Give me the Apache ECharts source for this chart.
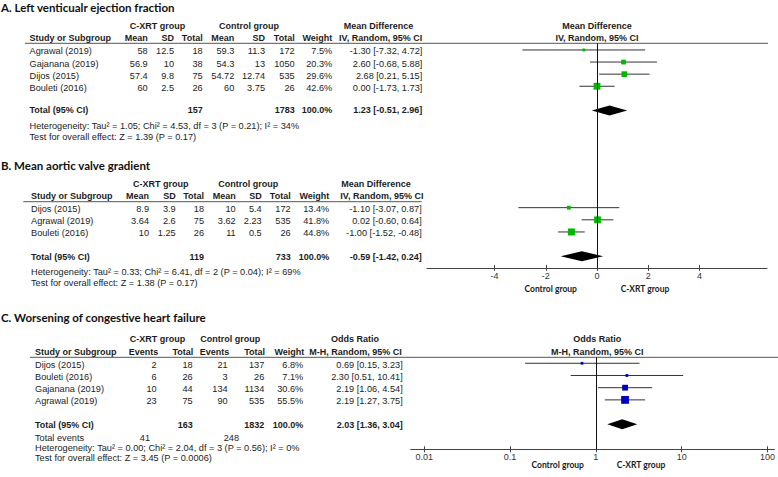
<!DOCTYPE html>
<html>
<head>
<meta charset="utf-8">
<script src="https://cdn.jsdelivr.net/npm/echarts@6/dist/echarts.min.js"></script>
<style>
html,body{margin:0;padding:0;background:#fff;}
#chart{width:778px;height:477px;}
</style>
</head>
<body>
<div id="chart"></div>
<script>
// ---------------- DATA ----------------
// Panel A: Left ventricular ejection fraction (Mean Difference, IV, Random)
const aTitle = 'A. Left venticualr ejection fraction';
const aStudies = ['Agrawal (2019)', 'Gajanana (2019)', 'Dijos (2015)', 'Bouleti (2016)'];
const aXrtMean = ['58', '56.9', '57.4', '60'];
const aXrtSD = ['12.5', '10', '9.8', '2.5'];
const aXrtN = [18, 38, 75, 26];
const aCtlMean = ['59.3', '54.3', '54.72', '60'];
const aCtlSD = ['11.3', '13', '12.74', '3.75'];
const aCtlN = [172, 1050, 535, 26];
const aWeight = [7.5, 20.3, 29.6, 42.6];
const aEst = [-1.30, 2.60, 2.68, 0.00];
const aLow = [-7.32, -0.68, 0.21, -1.73];
const aHigh = [4.72, 5.88, 5.15, 1.73];
const aTotalN = [157, 1783];
const aTotalCI = [1.23, -0.51, 2.96];
const aHet = 'Heterogeneity: Tau\u00b2 = 1.05; Chi\u00b2 = 4.53, df = 3 (P = 0.21); I\u00b2 = 34%';
const aTest = 'Test for overall effect: Z = 1.39 (P = 0.17)';

// Panel B: Mean aortic valve gradient
const bTitle = 'B. Mean aortic valve gradient';
const bStudies = ['Dijos (2015)', 'Agrawal (2019)', 'Bouleti (2016)'];
const bXrtMean = ['8.9', '3.64', '10'];
const bXrtSD = ['3.9', '2.6', '1.25'];
const bXrtN = [18, 75, 26];
const bCtlMean = ['10', '3.62', '11'];
const bCtlSD = ['5.4', '2.23', '0.5'];
const bCtlN = [172, 535, 26];
const bWeight = [13.4, 41.8, 44.8];
const bEst = [-1.10, 0.02, -1.00];
const bLow = [-3.07, -0.60, -1.52];
const bHigh = [0.87, 0.64, -0.48];
const bTotalN = [119, 733];
const bTotalCI = [-0.59, -1.42, 0.24];
const bHet = 'Heterogeneity: Tau\u00b2 = 0.33; Chi\u00b2 = 6.41, df = 2 (P = 0.04); I\u00b2 = 69%';
const bTest = 'Test for overall effect: Z = 1.38 (P = 0.17)';
const bTickValues = [-4, -2, 0, 2, 4];

// Panel C: Worsening of congestive heart failure (Odds Ratio, M-H, Random)
const cTitle = 'C. Worsening of congestive heart failure';
const cStudies = ['Dijos (2015)', 'Bouleti (2016)', 'Gajanana (2019)', 'Agrawal (2019)'];
const cXrtEvents = [2, 6, 10, 23];
const cXrtN = [18, 26, 44, 75];
const cCtlEvents = [21, 3, 134, 90];
const cCtlN = [137, 26, 1134, 535];
const cWeight = [6.8, 7.1, 30.6, 55.5];
const cEst = [0.69, 2.30, 2.19, 2.19];
const cLow = [0.15, 0.51, 1.06, 1.27];
const cHigh = [3.23, 10.41, 4.54, 3.75];
const cTotalN = [163, 1832];
const cTotalEvents = [41, 248];
const cTotalCI = [2.03, 1.36, 3.04];
const cHet = 'Heterogeneity: Tau\u00b2 = 0.00; Chi\u00b2 = 2.04, df = 3 (P = 0.56); I\u00b2 = 0%';
const cTest = 'Test for overall effect: Z = 3.45 (P = 0.0006)';
const cTickValues = [0.01, 0.1, 1, 10, 100];
const cTickLabels = ['0.01', '0.1', '1', '10', '100'];

const favLeft = 'Control group';
const favRight = 'C-XRT group';

// ---------------- LAYOUT / STYLE ----------------
const TXT = '#1c1c1c';
const FONT = '"Liberation Sans", Arial, sans-serif';
const fBody = '9.2px ' + FONT;
const fBold = 'bold 9px ' + FONT;
const fTitle = 'bold 11.5px Lato, "Open Sans", sans-serif';
const fFav = 'bold 8.5px Lato, "Open Sans", sans-serif';
const GREEN = '#00b800';
const BLUE = '#0000c0';

const plotLeft = 427, plotRight = 767;
const pA = {top: 43.3, min: -0.55, max: 9.5, step: 12.1};
const pB = {top: 164.9, min: -3.52, max: 4.96, step: 12.15};
const pC = {top: 357.3, min: -0.49, max: 7.05, step: 12.2};
function yPix(p, i) { return p.top + (i - p.min) * p.step; }

const fmt2 = v => v.toFixed(2);
const ciText = (e, l, h) => fmt2(e) + ' [' + fmt2(l) + ', ' + fmt2(h) + ']';
const pct = v => v.toFixed(1) + '%';

const graphics = [];
function T(x, y, s, font, align, color) {
  graphics.push({
    type: 'text', x: x, y: y, silent: true,
    style: {text: String(s), font: font, fill: color || TXT,
      textAlign: align || 'left', align: align || 'left',
      textVerticalAlign: 'middle', verticalAlign: 'middle'}
  });
}
function HL(x1, x2, y, color) {
  graphics.push({type: 'line', silent: true,
    shape: {x1: x1, y1: y, x2: x2, y2: y},
    style: {stroke: color || '#444', lineWidth: 1}});
}

// ---- Panel A table ----
T(1, 7, aTitle, fTitle, 'left', '#111');
T(157.5, 25.7, 'C-XRT group', fBold, 'center');
T(249, 25.7, 'Control group', fBold, 'center');
T(378.5, 25.7, 'Mean Difference', fBold, 'center');
T(597, 25.7, 'Mean Difference', fBold, 'center');
{
  const y = 37.7;
  T(29.5, y, 'Study or Subgroup', fBold, 'left');
  [['Mean', 147.7], ['SD', 174], ['Total', 202.7], ['Mean', 234.3], ['SD', 265], ['Total', 294.7], ['Weight', 332.3], ['IV, Random, 95% CI', 422.3]]
    .forEach(h => T(h[1], y, h[0], fBold, 'right'));
  T(597, y, 'IV, Random, 95% CI', fBold, 'center');
}
HL(25, 768, 43.3, '#555');
aStudies.forEach((s, i) => {
  const y = yPix(pA, i) + 1.5;
  T(29.5, y, s, fBody, 'left');
  T(147.7, y, aXrtMean[i], fBody, 'right');
  T(174, y, aXrtSD[i], fBody, 'right');
  T(202.7, y, aXrtN[i], fBody, 'right');
  T(234.3, y, aCtlMean[i], fBody, 'right');
  T(265, y, aCtlSD[i], fBody, 'right');
  T(294.7, y, aCtlN[i], fBody, 'right');
  T(332.3, y, pct(aWeight[i]), fBody, 'right');
  T(422.3, y, ciText(aEst[i], aLow[i], aHigh[i]), fBody, 'right');
});
{
  const y = yPix(pA, 5);
  T(29.5, y, 'Total (95% CI)', fBold, 'left');
  T(202.7, y, aTotalN[0], fBold, 'right');
  T(294.7, y, aTotalN[1], fBold, 'right');
  T(332.3, y, '100.0%', fBold, 'right');
  T(422.3, y, ciText(aTotalCI[0], aTotalCI[1], aTotalCI[2]), fBold, 'right');
  T(29.5, 125.7, aHet, fBody, 'left');
  T(29.5, 136.7, aTest, fBody, 'left');
}

// ---- Panel B table ----
T(1, 165.5, bTitle, fTitle, 'left', '#111');
T(160.8, 184, 'C-XRT group', fBold, 'center');
T(248.3, 184, 'Control group', fBold, 'center');
T(376, 184, 'Mean Difference', fBold, 'center');
{
  const y = 195.7;
  T(31, y, 'Study or Subgroup', fBold, 'left');
  [['Mean', 149], ['SD', 175.7], ['Total', 204], ['Mean', 235.7], ['SD', 261.7], ['Total', 290.7], ['Weight', 329.3], ['IV, Random, 95% CI', 423.5]]
    .forEach(h => T(h[1], y, h[0], fBold, 'right'));
}
HL(23.3, 421.7, 201.7, '#555');
bStudies.forEach((s, i) => {
  const y = yPix(pB, i) + 1.5;
  T(31, y, s, fBody, 'left');
  T(149, y, bXrtMean[i], fBody, 'right');
  T(175.7, y, bXrtSD[i], fBody, 'right');
  T(204, y, bXrtN[i], fBody, 'right');
  T(235.7, y, bCtlMean[i], fBody, 'right');
  T(261.7, y, bCtlSD[i], fBody, 'right');
  T(290.7, y, bCtlN[i], fBody, 'right');
  T(329.3, y, pct(bWeight[i]), fBody, 'right');
  T(421.7, y, ciText(bEst[i], bLow[i], bHigh[i]), fBody, 'right');
});
{
  const y = yPix(pB, 4) + 1;
  T(31, y, 'Total (95% CI)', fBold, 'left');
  T(204, y, bTotalN[0], fBold, 'right');
  T(290.7, y, bTotalN[1], fBold, 'right');
  T(329.3, y, '100.0%', fBold, 'right');
  T(421.7, y, ciText(bTotalCI[0], bTotalCI[1], bTotalCI[2]), fBold, 'right');
  T(31, 272.3, bHet, fBody, 'left');
  T(31, 283.3, bTest, fBody, 'left');
}
T(550.7, 289.3, favLeft, fFav, 'center');
T(645, 289.3, favRight, fFav, 'center');

// ---- Panel C table ----
T(1, 317.3, cTitle, fTitle, 'left', '#111');
T(157.5, 339.3, 'C-XRT group', fBold, 'center');
T(230.2, 339.3, 'Control group', fBold, 'center');
T(355, 339.3, 'Odds Ratio', fBold, 'center');
T(597.3, 339.3, 'Odds Ratio', fBold, 'center');
{
  const y = 351.7;
  T(35, y, 'Study or Subgroup', fBold, 'left');
  [['Events', 158.3], ['Total', 193.3], ['Events', 229.3], ['Total', 265], ['Weight', 304.3]]
    .forEach(h => T(h[1], y, h[0], fBold, 'right'));
  T(355.5, y, 'M-H, Random, 95% CI', fBold, 'center');
  T(597.3, y, 'M-H, Random, 95% CI', fBold, 'center');
}
HL(30, 778, 357.3, '#555');
cStudies.forEach((s, i) => {
  const y = yPix(pC, i) + 1.5;
  T(35, y, s, fBody, 'left');
  T(156.7, y, cXrtEvents[i], fBody, 'right');
  T(192.7, y, cXrtN[i], fBody, 'right');
  T(227.7, y, cCtlEvents[i], fBody, 'right');
  T(264.3, y, cCtlN[i], fBody, 'right');
  T(303.3, y, pct(cWeight[i]), fBody, 'right');
  T(402.7, y, ciText(cEst[i], cLow[i], cHigh[i]), fBody, 'right');
});
{
  const y = yPix(pC, 5) + 0.7;
  T(35, y, 'Total (95% CI)', fBold, 'left');
  T(192.7, y, cTotalN[0], fBold, 'right');
  T(264.3, y, cTotalN[1], fBold, 'right');
  T(303.3, y, '100.0%', fBold, 'right');
  T(402.7, y, ciText(cTotalCI[0], cTotalCI[1], cTotalCI[2]), fBold, 'right');
  T(35, 438.3, 'Total events', fBody, 'left');
  T(150, 438.3, cTotalEvents[0], fBody, 'right');
  T(239, 438.3, cTotalEvents[1], fBody, 'right');
  T(35, 447.9, cHet, fBody, 'left');
  T(35, 457.9, cTest, fBody, 'left');
}
T(557.7, 465.3, favLeft, fFav, 'center');
T(641, 465.3, favRight, fFav, 'center');

// ---------------- SERIES ----------------
function studyItems(est, lo, hi, w) {
  return est.map((e, i) => [e, lo[i], hi[i], i, w[i]]);
}
function studyRender(color) {
  return function (params, api) {
    const r = api.value(3);
    const p = api.coord([api.value(0), r]);
    const l = api.coord([api.value(1), r]);
    const h = api.coord([api.value(2), r]);
    const s = Math.sqrt(api.value(4)) * 1.05;
    return {type: 'group', children: [
      {type: 'line', shape: {x1: l[0], y1: l[1], x2: h[0], y2: h[1]}, style: {stroke: '#333', lineWidth: 1}},
      {type: 'rect', shape: {x: p[0] - s / 2, y: p[1] - s / 2, width: s, height: s}, style: {fill: color}}
    ]};
  };
}
function diamondRender(params, api) {
  const r = api.value(3);
  const p = api.coord([api.value(0), r]);
  const l = api.coord([api.value(1), r]);
  const h = api.coord([api.value(2), r]);
  const hh = 5;
  return {type: 'polygon', shape: {points: [[l[0], p[1]], [p[0], p[1] - hh], [h[0], p[1]], [p[0], p[1] + hh]]},
    style: {fill: '#000'}};
}
function refLine(idx, xv) {
  return {type: 'line', xAxisIndex: idx, yAxisIndex: idx, data: [], silent: true,
    markLine: {silent: true, symbol: ['none', 'none'], label: {show: false},
      lineStyle: {color: '#111', width: 1, type: 'solid'}, data: [{xAxis: xv}]}};
}

const grids = [pA, pB, pC].map(p => ({
  left: plotLeft - (p === pC ? 16.3 : 0),
  top: p.top,
  width: p === pC ? 366.3 : (plotRight - plotLeft),
  height: (p.max - p.min) * p.step,
  containLabel: false
}));

const axisLbl = {color: '#333', fontSize: 9, fontFamily: FONT, margin: 4};
const bAxisBase = {gridIndex: 1, type: 'value', min: -6.64, max: 6.64, position: 'bottom', splitLine: {show: false}};
const cAxisBase = {gridIndex: 2, type: 'log', logBase: 10, min: 0.00697, max: 120.5, position: 'bottom',
  splitLine: {show: false}, minorTick: {show: false}};
const cFormatter = v => {
  const k = cTickValues.findIndex(t => Math.abs(Math.log10(t) - Math.log10(v)) < 1e-6);
  return k >= 0 ? cTickLabels[k] : '';
};
const option = {
  backgroundColor: '#fff',
  animation: false,
  grid: grids,
  xAxis: [
    {gridIndex: 0, type: 'value', min: -16.67, max: 16.67, show: false},
    Object.assign({}, bAxisBase, {
      axisLine: {show: true, onZero: false, lineStyle: {color: '#444', width: 1}},
      axisTick: {show: true, length: 3, customValues: bTickValues, lineStyle: {color: '#444'}},
      axisLabel: Object.assign({customValues: bTickValues}, axisLbl)}),
    Object.assign({}, cAxisBase, {
      axisLine: {show: true, onZero: false, lineStyle: {color: '#444', width: 1}},
      axisTick: {show: true, length: 3, customValues: cTickValues, lineStyle: {color: '#444'}},
      axisLabel: Object.assign({customValues: cTickValues, formatter: cFormatter}, axisLbl, {margin: 3})}),
    // inner halves of the ticks (ticks straddle the axis line)
    Object.assign({}, bAxisBase, {
      axisLine: {show: false, onZero: false},
      axisTick: {show: true, inside: true, length: 3, customValues: bTickValues, lineStyle: {color: '#444'}},
      axisLabel: {show: false}}),
    Object.assign({}, cAxisBase, {
      axisLine: {show: false, onZero: false},
      axisTick: {show: true, inside: true, length: 3, customValues: cTickValues, lineStyle: {color: '#444'}},
      axisLabel: {show: false}})
  ],
  yAxis: [pA, pB, pC].map((p, i) => ({gridIndex: i, type: 'value', inverse: true, min: p.min, max: p.max, show: false})),
  graphic: graphics,
  series: [
    refLine(0, 0), refLine(1, 0), refLine(2, 1),
    {type: 'custom', xAxisIndex: 0, yAxisIndex: 0, renderItem: studyRender(GREEN), clip: false,
      encode: {x: [0, 1, 2], y: 3}, data: studyItems(aEst, aLow, aHigh, aWeight)},
    {type: 'custom', xAxisIndex: 0, yAxisIndex: 0, renderItem: diamondRender, clip: false,
      encode: {x: [0, 1, 2], y: 3}, data: [[aTotalCI[0], aTotalCI[1], aTotalCI[2], 5]]},
    {type: 'custom', xAxisIndex: 1, yAxisIndex: 1, renderItem: studyRender(GREEN), clip: false,
      encode: {x: [0, 1, 2], y: 3}, data: studyItems(bEst, bLow, bHigh, bWeight)},
    {type: 'custom', xAxisIndex: 1, yAxisIndex: 1, renderItem: diamondRender, clip: false,
      encode: {x: [0, 1, 2], y: 3}, data: [[bTotalCI[0], bTotalCI[1], bTotalCI[2], 4]]},
    {type: 'custom', xAxisIndex: 2, yAxisIndex: 2, renderItem: studyRender(BLUE), clip: false,
      encode: {x: [0, 1, 2], y: 3}, data: studyItems(cEst, cLow, cHigh, cWeight)},
    {type: 'custom', xAxisIndex: 2, yAxisIndex: 2, renderItem: diamondRender, clip: false,
      encode: {x: [0, 1, 2], y: 3}, data: [[cTotalCI[0], cTotalCI[1], cTotalCI[2], 5]]}
  ]
};

const chart = echarts.init(document.getElementById('chart'), null, {renderer: 'svg', width: 778, height: 477});
chart.setOption(option);
</script>
</body>
</html>
